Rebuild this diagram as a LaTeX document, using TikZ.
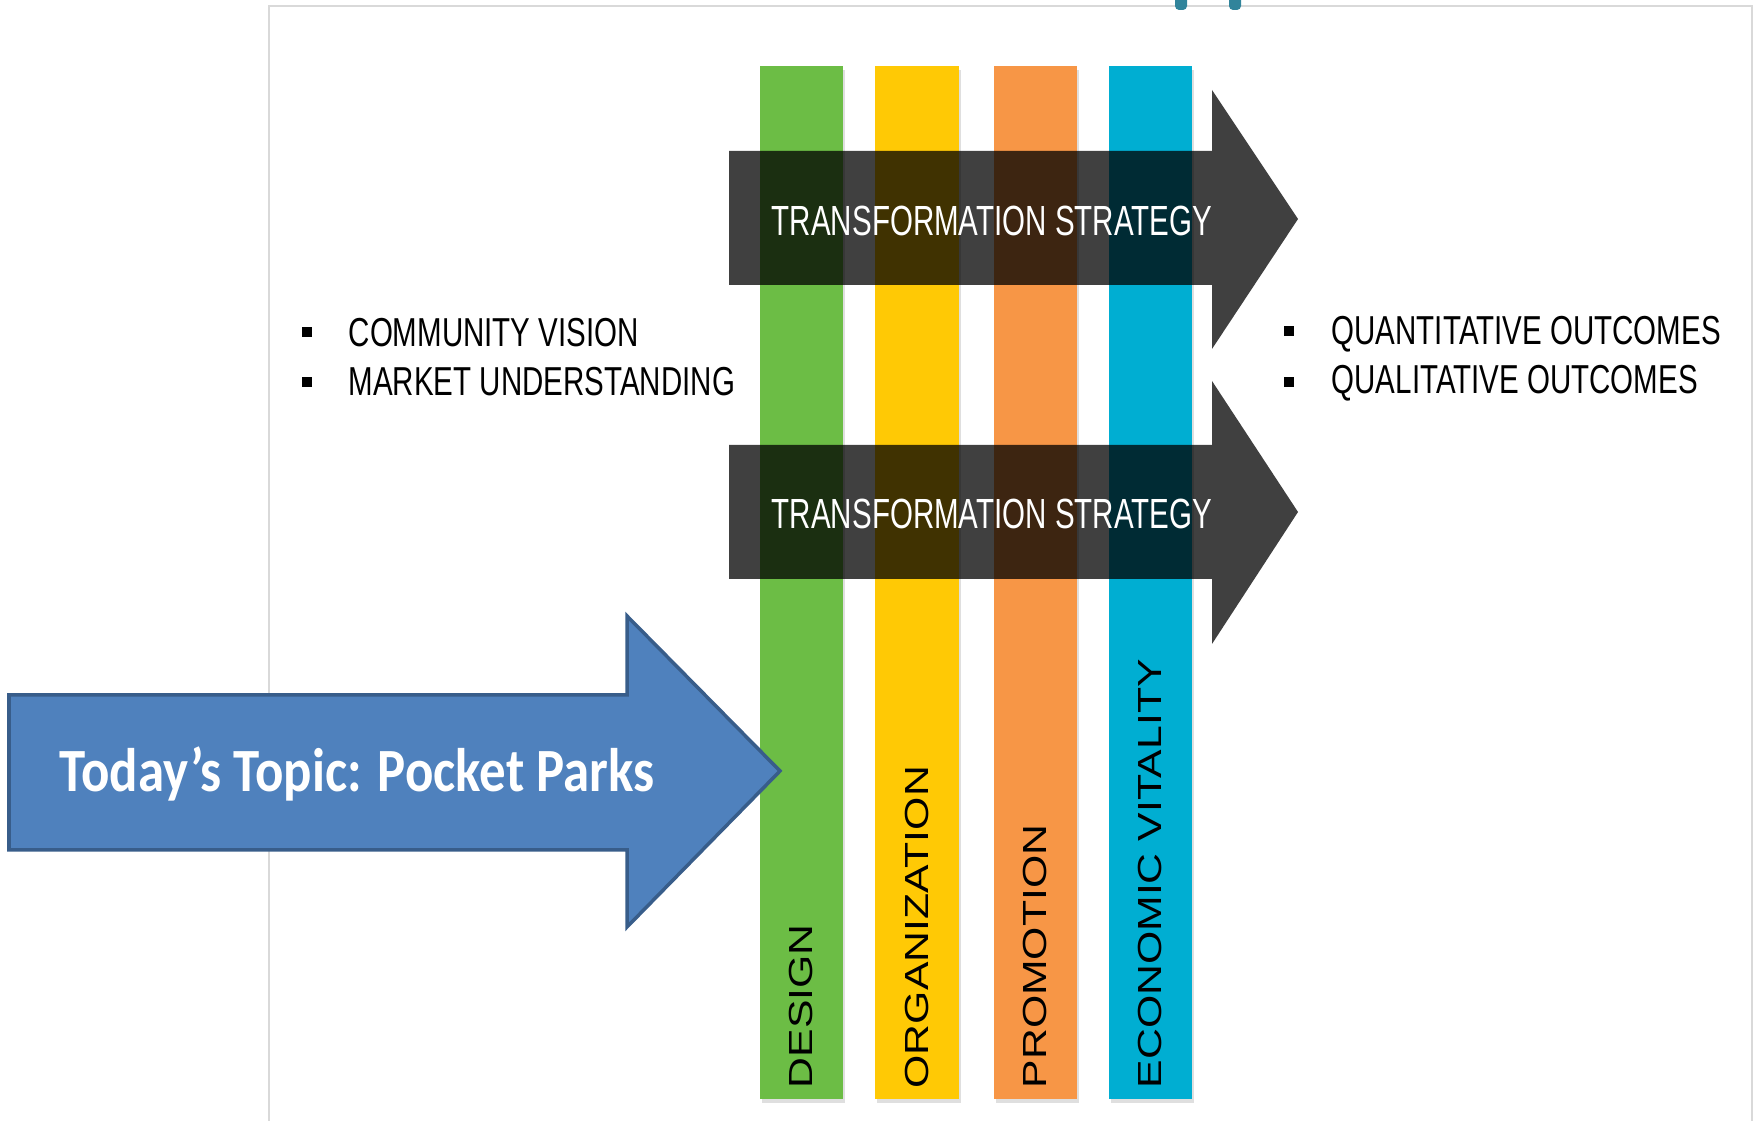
\documentclass[tikz,border=0pt]{standalone}
\usepackage{fontspec}
\setmainfont{Liberation Sans}
\newfontfamily\narrowfont[FakeStretch=0.70]{Liberation Sans}
\newfontfamily\pointfont[FakeStretch=0.73]{Liberation Sans}
\newfontfamily\widefont[FakeStretch=1.28]{Liberation Sans}
\newfontfamily\topicfont[FakeStretch=0.86]{Carlito}
\usetikzlibrary{shadows}

\definecolor{designgreen}{HTML}{6CBD45}
\definecolor{orgyellow}{HTML}{FFC905}
\definecolor{promoorange}{HTML}{F79646}
\definecolor{econcyan}{HTML}{00AED2}
\definecolor{topicblue}{HTML}{4F81BD}
\definecolor{topicedge}{HTML}{385D8A}
\definecolor{framegray}{HTML}{D9D9D9}
\definecolor{tabteal}{HTML}{31849B}

\tikzset{
  bar/.style={minimum width=0.835cm, minimum height=10.33cm, inner sep=0, anchor=south west,
    drop shadow={shadow xshift=0.02cm, shadow yshift=-0.04cm, opacity=0.25}},
  barlabel/.style={rotate=90, anchor=west, inner sep=0, font=\widefont\fontsize{9.5}{11}\selectfont},
  strategy/.style={fill=black, fill opacity=0.75},
  strategytext/.style={text=white, inner sep=0, font=\narrowfont\fontsize{12}{14}\selectfont},
  point/.style={anchor=base west, inner sep=0, font=\pointfont\fontsize{11.5}{13}\selectfont},
  bullet/.style={fill=black, minimum size=0.1cm, inner sep=0},
  topicarrow/.style={fill=topicblue, draw=topicedge, line width=1pt},
  topic/.style={anchor=base west, inner sep=0, text=white, font=\topicfont\bfseries\fontsize{17.5}{20}\selectfont},
}

\begin{document}
\begin{tikzpicture}
                \useasboundingbox (0,0) rectangle (17.55,11.21);
                % slide frame and the two tabs above it
                \draw[framegray, line width=0.6pt] (2.69,-0.1) -- (2.69,11.15) -- (17.52,11.15) -- (17.52,-0.1);
                \fill[tabteal, rounded corners=0.04cm] (11.75,11.11) rectangle (11.87,11.4);
                \fill[tabteal, rounded corners=0.04cm] (12.29,11.11) rectangle (12.41,11.4);
                % the four points
                \node[bar, fill=designgreen] (design) at (7.59,0.21) {};
                \node[bar, fill=orgyellow] (organization) at (8.745,0.21) {};
                \node[bar, fill=promoorange] (promotion) at (9.93,0.21) {};
                \node[bar, fill=econcyan] (vitality) at (11.08,0.21) {};
                \node[barlabel] (designlabel) at (8.005,0.32) {DESIGN};
                \node[barlabel] (organizationlabel) at (9.165,0.32) {ORGANIZATION};
                \node[barlabel] (promotionlabel) at (10.35,0.32) {PROMOTION};
                \node[barlabel] (vitalitylabel) at (11.50,0.32) {ECONOMIC VITALITY};
                % strategy arrows across the bars
                \fill[strategy] (7.29,9.70) -- (12.12,9.70) -- (12.12,10.31) -- (12.98,9.02) -- (12.12,7.72) -- (12.12,8.36) -- (7.29,8.36) -- cycle;
                \fill[strategy] (7.29,6.76) -- (12.12,6.76) -- (12.12,7.40) -- (12.98,6.09) -- (12.12,4.77) -- (12.12,5.42) -- (7.29,5.42) -- cycle;
                \node[strategytext] (upperstrategy) at (9.92,9.00) {TRANSFORMATION STRATEGY};
                \node[strategytext] (lowerstrategy) at (9.92,6.07) {TRANSFORMATION STRATEGY};
                % inputs on the left, outcomes on the right
                \node[bullet] (visionbullet) at (3.07,7.89) {};
                \node[bullet] (marketbullet) at (3.07,7.39) {};
                \node[point] (vision) at (3.48,7.74) {COMMUNITY VISION};
                \node[point] (market) at (3.48,7.25) {MARKET UNDERSTANDING};
                \node[bullet] (quantbullet) at (12.89,7.90) {};
                \node[bullet] (qualbullet) at (12.89,7.39) {};
                \node[point] (quant) at (13.31,7.76) {QUANTITATIVE OUTCOMES};
                \node[point] (qual) at (13.31,7.27) {QUALITATIVE OUTCOMES};
                % topic arrow
                \draw[topicarrow] (0.09,4.26) -- (6.27,4.26) -- (6.27,5.05) -- (7.80,3.50) -- (6.27,1.94) -- (6.27,2.71) -- (0.09,2.71) -- cycle;
                \node[topic] (topic) at (0.59,3.29) {Today’s Topic: Pocket Parks};
            \end{tikzpicture}
\end{document}
